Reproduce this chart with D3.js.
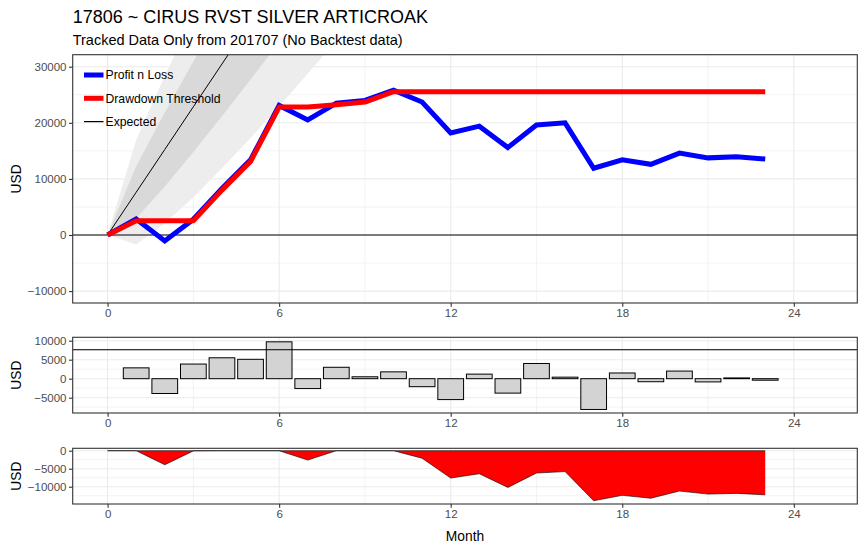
<!DOCTYPE html>
<html>
<head>
<meta charset="utf-8">
<script src="https://cdn.jsdelivr.net/npm/d3@7/dist/d3.min.js"></script>
<style>
  body { margin: 0; background: #fff; }
  svg { display: block; font-family: "Liberation Sans", Arial, sans-serif; }
</style>
</head>
<body>
<svg id="chart" width="865" height="551"></svg>
<script>
// ---------- DATA ----------
const months     = [0,1,2,3,4,5,6,7,8,9,10,11,12,13,14,15,16,17,18,19,20,21,22,23];
const pnl        = [0,2850,-1050,2800,8300,13400,23100,20500,23500,24000,25800,23700,18200,19400,15600,19600,20000,11900,13400,12600,14600,13750,13950,13550];
const threshold  = [0,2550,2550,2550,8000,13100,22800,22800,23200,23700,25550,25550,25550,25550,25550,25550,25550,25550,25550,25550,25550,25550,25550,25550];
const barMonths  = [1,2,3,4,5,6,7,8,9,10,11,12,13,14,15,16,17,18,19,20,21,22,23];
const monthly    = [2850,-3900,3850,5500,5100,9700,-2600,3000,500,1800,-2100,-5500,1200,-3800,4000,400,-8100,1500,-800,2000,-850,200,-400];
const drawdown   = [0,0,-3900,-50,0,0,0,-2600,0,0,0,-2100,-7600,-6400,-10200,-6200,-5800,-13900,-12400,-13200,-11200,-12050,-11850,-12250];
const expMonths  = [0,1,2,3,4,5,6,7,8,9];
const expected   = [0,7620,15240,22860,30480,38100,45720,53340,60960,68580];
const band1Lo    = [0,2970,8660,14810,21180,27700,34330,41040,47810,54630];
const band1Hi    = [0,12270,21820,30910,39780,48500,57110,65640,74110,82530];
const band2Lo    = [0,-1680,2090,6750,11880,17300,22940,28730,34660,40680];
const band2Hi    = [0,16920,28390,38970,49080,58900,68500,77950,87260,96480];
const expectedMonthly = 7620;
const xTicks     = [0,6,12,18,24];
const xMinor     = [3,9,15,21];
const yTicksTop  = [-10000,0,10000,20000,30000];
const yMinorTop  = [-5000,5000,15000,25000];
const yTicksMid  = [-5000,0,5000,10000];
const yMinorMid  = [-7500,-2500,2500,7500];
const yTicksBot  = [-10000,-5000,0];
const yMinorBot  = [-12500,-7500,-2500];
const legendItems = [
  {label: "Profit n Loss", color: "#0000ff", width: 5},
  {label: "Drawdown Threshold", color: "#ff0000", width: 5},
  {label: "Expected", color: "#000000", width: 1.2}
];
const titleText = "17806 ~ CIRUS RVST SILVER ARTICROAK";
const subtitleText = "Tracked Data Only from 201707 (No Backtest data)";

// ---------- LAYOUT ----------
const svg = d3.select("#chart");
const L = 72.7, R = 857.3;
const x = d3.scaleLinear().domain([-1.22, 26.22]).range([L, R]);

const panels = [
  {id: "top", y: d3.scaleLinear().domain([-12120, 32140]).range([303, 54.7]), ticks: yTicksTop, minor: yMinorTop},
  {id: "mid", y: d3.scaleLinear().domain([-9030, 10890]).range([413, 337.3]), ticks: yTicksMid, minor: yMinorMid},
  {id: "bot", y: d3.scaleLinear().domain([-14800, 670]).range([504, 448.3]), ticks: yTicksBot, minor: yMinorBot}
];

const defs = svg.append("defs");
const grid = "#ebebeb", border = "#333333", tickCol = "#4d4d4d";

panels.forEach(p => {
  const [yb, yt] = p.y.range();
  p.g = svg.append("g");
  defs.append("clipPath").attr("id", "clip-" + p.id)
    .append("rect").attr("x", L).attr("y", yt).attr("width", R - L).attr("height", yb - yt);
  p.g.selectAll(".ymin").data(p.minor).join("line")
    .attr("x1", L).attr("x2", R).attr("y1", d => p.y(d)).attr("y2", d => p.y(d))
    .attr("stroke", grid).attr("stroke-width", 0.6);
  p.g.selectAll(".xmin").data(xMinor).join("line")
    .attr("y1", yt).attr("y2", yb).attr("x1", d => x(d)).attr("x2", d => x(d))
    .attr("stroke", grid).attr("stroke-width", 0.6);
  p.g.selectAll(".ymaj").data(p.ticks).join("line")
    .attr("x1", L).attr("x2", R).attr("y1", d => p.y(d)).attr("y2", d => p.y(d))
    .attr("stroke", grid).attr("stroke-width", 1.1);
  p.g.selectAll(".xmaj").data(xTicks).join("line")
    .attr("y1", yt).attr("y2", yb).attr("x1", d => x(d)).attr("x2", d => x(d))
    .attr("stroke", grid).attr("stroke-width", 1.1);
  p.plot = p.g.append("g").attr("clip-path", "url(#clip-" + p.id + ")");
});

// ---------- TOP PANEL ----------
const pTop = panels[0];
const area2 = d3.area().x((d, i) => x(expMonths[i])).y0((d, i) => pTop.y(band2Lo[i])).y1((d, i) => pTop.y(band2Hi[i]));
const area1 = d3.area().x((d, i) => x(expMonths[i])).y0((d, i) => pTop.y(band1Lo[i])).y1((d, i) => pTop.y(band1Hi[i]));
pTop.plot.append("path").datum(expMonths).attr("d", area2).attr("fill", "#ededed");
pTop.plot.append("path").datum(expMonths).attr("d", area1).attr("fill", "#d9d9d9");
pTop.plot.append("path").datum(expMonths)
  .attr("d", d3.line().x((d, i) => x(expMonths[i])).y((d, i) => pTop.y(expected[i])))
  .attr("fill", "none").attr("stroke", "#000").attr("stroke-width", 1);
pTop.plot.append("line").attr("x1", L).attr("x2", R).attr("y1", pTop.y(0)).attr("y2", pTop.y(0))
  .attr("stroke", "#000").attr("stroke-width", 1);
const lineTop = arr => d3.line().x((d, i) => x(months[i])).y((d, i) => pTop.y(arr[i]))(months);
pTop.plot.append("path").attr("d", lineTop(pnl)).attr("fill", "none")
  .attr("stroke", "#0000ff").attr("stroke-width", 5).attr("stroke-linejoin", "miter").attr("stroke-miterlimit", 10).attr("stroke-linecap", "butt");
pTop.plot.append("path").attr("d", lineTop(threshold)).attr("fill", "none")
  .attr("stroke", "#ff0000").attr("stroke-width", 5).attr("stroke-linejoin", "round").attr("stroke-linecap", "butt");

// legend
const lg = svg.append("g");
legendItems.forEach((it, i) => {
  const ly = 75 + i * 23.3;
  lg.append("line").attr("x1", 84).attr("x2", 103.5).attr("y1", ly).attr("y2", ly)
    .attr("stroke", it.color).attr("stroke-width", it.width);
  lg.append("text").attr("x", 105.5).attr("y", ly + 4.3).attr("font-size", 12.2).attr("fill", "#000").text(it.label);
});

// ---------- MIDDLE PANEL ----------
const pMid = panels[1];
const bw = x(0.9) - x(0);
pMid.plot.selectAll("rect.bar").data(barMonths).join("rect")
  .attr("x", (d) => x(d) - bw / 2)
  .attr("width", bw)
  .attr("y", (d, i) => pMid.y(Math.max(0, monthly[i])))
  .attr("height", (d, i) => Math.abs(pMid.y(monthly[i]) - pMid.y(0)))
  .attr("fill", "#d3d3d3").attr("stroke", "#000").attr("stroke-width", 1);
pMid.plot.append("line").attr("x1", L).attr("x2", R)
  .attr("y1", pMid.y(expectedMonthly)).attr("y2", pMid.y(expectedMonthly))
  .attr("stroke", "#000").attr("stroke-width", 1);

// ---------- BOTTOM PANEL ----------
const pBot = panels[2];
pBot.plot.append("path").datum(months)
  .attr("d", d3.area().x((d, i) => x(months[i])).y0(pBot.y(0)).y1((d, i) => pBot.y(drawdown[i])))
  .attr("fill", "#ff0000");
pBot.plot.append("path").datum(months)
  .attr("d", d3.line().x((d, i) => x(months[i])).y((d, i) => pBot.y(drawdown[i])))
  .attr("fill", "none").attr("stroke", "#000").attr("stroke-width", 0.6);
pBot.plot.append("line").attr("x1", x(0)).attr("x2", x(23)).attr("y1", pBot.y(0)).attr("y2", pBot.y(0))
  .attr("stroke", "#000").attr("stroke-width", 0.6);

// ---------- AXES, BORDERS, LABELS ----------
panels.forEach(p => {
  const [yb, yt] = p.y.range();
  p.g.append("rect").attr("x", L).attr("y", yt).attr("width", R - L).attr("height", yb - yt)
    .attr("fill", "none").attr("stroke", border).attr("stroke-width", 1.1);
  const ya = svg.append("g").attr("transform", `translate(${L},0)`)
    .call(d3.axisLeft(p.y).tickValues(p.ticks).tickSize(3.7).tickPadding(2.5).tickFormat(d3.format("d")));
  const xa = svg.append("g").attr("transform", `translate(0,${yb})`)
    .call(d3.axisBottom(x).tickValues(xTicks).tickSize(3.7).tickPadding(2.5).tickFormat(d3.format("d")));
  [ya, xa].forEach(a => {
    a.select(".domain").remove();
    a.selectAll(".tick line").attr("stroke", border).attr("stroke-width", 1.1);
    a.selectAll(".tick text").attr("fill", tickCol).attr("font-size", 11.5)
      .attr("font-family", "'Liberation Sans', Arial, sans-serif");
  });
  svg.append("text").attr("transform", `translate(20.5,${(yt + yb) / 2}) rotate(-90)`)
    .attr("text-anchor", "middle").attr("font-size", 13.8).attr("fill", "#000").text("USD");
});

svg.append("text").attr("x", (L + R) / 2).attr("y", 541).attr("text-anchor", "middle")
  .attr("font-size", 13.8).attr("fill", "#000").text("Month");
svg.append("text").attr("x", L).attr("y", 22.5).attr("font-size", 18).attr("fill", "#000").text(titleText);
svg.append("text").attr("x", L).attr("y", 44.7).attr("font-size", 14.5).attr("fill", "#000").text(subtitleText);
</script>
</body>
</html>
